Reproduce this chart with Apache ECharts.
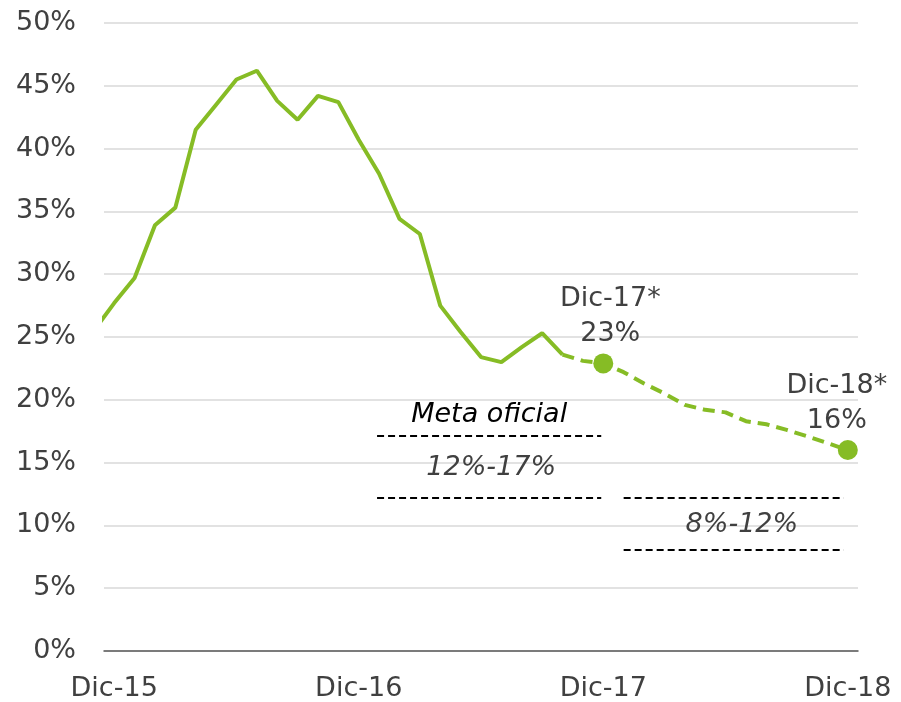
<!DOCTYPE html>
<html>
<head>
<meta charset="utf-8">
<script src="https://cdn.jsdelivr.net/npm/echarts@6/dist/echarts.min.js"></script>
<style>
  html, body { margin: 0; padding: 0; background: #fff; }
  #main { width: 901px; height: 702px; }
</style>
</head>
<body>
<div id="main"></div>
<script>
    // meses: indice 0 = Dic-15 ... 36 = Dic-18 (indice -1 = Nov-15, recortado)
    var tickIdx = [0, 12, 24, 36];
    var tickLabels = ['Dic-15', 'Dic-16', 'Dic-17', 'Dic-18'];

    // observado, Nov-15 (-1) a Oct-17 (22)
    var observado = [25.5, 27.7, 29.7, 33.9, 35.3, 41.5, 43.5, 45.5, 46.2, 43.8, 42.3, 44.2,
                     43.7, 40.7, 38.0, 34.4, 33.2, 27.5, 25.4, 23.4, 23.0, 24.2, 25.3, 23.6];
    var obsStart = -1;

    // proyectado, Oct-17 (22) a Dic-18 (36)
    var proyectado = [23.6, 23.1, 22.9, 22.2, 21.3, 20.5, 19.6, 19.2, 19.0, 18.3, 18.05, 17.6,
                      17.1, 16.55, 16.0];
    var proyStart = 22;

    // puntos destacados
    var destacados = [
        { idx: 24, valor: 22.9, nombre: 'Dic-17*', texto: '23%' },
        { idx: 36, valor: 16.0, nombre: 'Dic-18*', texto: '16%' }
    ];

    // meta oficial
    var metas = [
        { desde: 12.9, hasta: 23.9, baja: 12, alta: 17, texto: '12%-17%' },
        { desde: 25.0, hasta: 35.8, baja: 8, alta: 12, texto: '8%-12%' }
    ];

    var verde = '#86bc25';
    var gris = '#404040';
    var fuente = 'DejaVu Sans, Verdana, sans-serif';
    var tam = 27;

    var myChart = echarts.init(document.getElementById('main'));

    var obsData = observado.map(function (v, i) { return [obsStart + i, v]; });
    var proyData = proyectado.map(function (v, i) { return [proyStart + i, v]; });

    var lineas = [
        [{ coord: [metas[0].desde, metas[0].alta + 0.1] }, { coord: [metas[0].hasta, metas[0].alta + 0.1] }],
        [{ coord: [metas[0].desde, metas[0].baja + 0.2] }, { coord: [metas[0].hasta, metas[0].baja + 0.2] }],
        [{ coord: [metas[1].desde, metas[1].alta + 0.2] }, { coord: [metas[1].hasta, metas[1].alta + 0.2] }],
        [{ coord: [metas[1].desde, metas[1].baja + 0.1] }, { coord: [metas[1].hasta, metas[1].baja + 0.1] }]
    ];

    var textos = [
        { coord: [18.4, 18.8], value: 'Meta oficial', label: { color: '#000' } },
        { coord: [18.5, 14.6], value: metas[0].texto, label: { color: gris } },
        { coord: [30.8, 10.0], value: metas[1].texto, label: { color: gris } }
    ];

    option = {
        animation: false,
        textStyle: { fontFamily: fuente },
        grid: { left: 104, right: 43, top: 23, bottom: 51, containLabel: false },
        xAxis: {
            type: 'value',
            min: -0.5,
            max: 36.5,
            splitLine: { show: false },
            axisTick: { show: false },
            axisLine: { show: true, lineStyle: { color: '#595959', width: 1.5 } },
            axisLabel: {
                customValues: tickIdx,
                formatter: function (v) { return tickLabels[tickIdx.indexOf(Math.round(v))] || ''; },
                color: gris,
                fontSize: tam,
                fontFamily: fuente,
                margin: 24
            }
        },
        yAxis: {
            type: 'value',
            min: 0,
            max: 50,
            interval: 5,
            axisLine: { show: false },
            axisTick: { show: false },
            splitLine: { lineStyle: { color: '#d9d9d9', width: 1.5 } },
            axisLabel: {
                formatter: '{value}%',
                color: gris,
                fontSize: tam,
                fontFamily: fuente,
                margin: 28
            }
        },
        series: [{
            name: 'observado',
            type: 'line',
            data: obsData,
            clip: true,
            symbol: 'none',
            lineStyle: { color: verde, width: 4 },
            z: 3
        }, {
            name: 'proyectado',
            type: 'line',
            data: proyData,
            symbol: 'none',
            lineStyle: { color: verde, width: 4, type: [12, 7] },
            z: 3,
            markLine: {
                silent: true,
                symbol: ['none', 'none'],
                label: { show: false },
                lineStyle: { color: '#000', width: 2, type: [7, 4] },
                data: lineas
            },
            markPoint: {
                silent: true,
                symbol: 'circle',
                symbolSize: 0,
                label: {
                    show: true,
                    position: 'inside',
                    fontSize: tam,
                    fontStyle: 'italic',
                    fontFamily: fuente,
                    formatter: function (p) { return p.value; }
                },
                data: textos
            }
        }, {
            name: 'destacados',
            type: 'scatter',
            symbol: 'circle',
            symbolSize: 20,
            itemStyle: { color: verde, opacity: 1 },
            z: 4,
            data: destacados.map(function (d, i) {
                return {
                    value: [d.idx, d.valor],
                    label: {
                        show: true,
                        position: 'top',
                        distance: 2,
                        offset: i === 0 ? [7, 0] : [-11, 0],
                        formatter: d.nombre + '\n' + d.texto,
                        color: gris,
                        fontSize: tam,
                        lineHeight: 35,
                        fontFamily: fuente
                    }
                };
            })
        }]
    };

    myChart.setOption(option);
</script>
</body>
</html>
